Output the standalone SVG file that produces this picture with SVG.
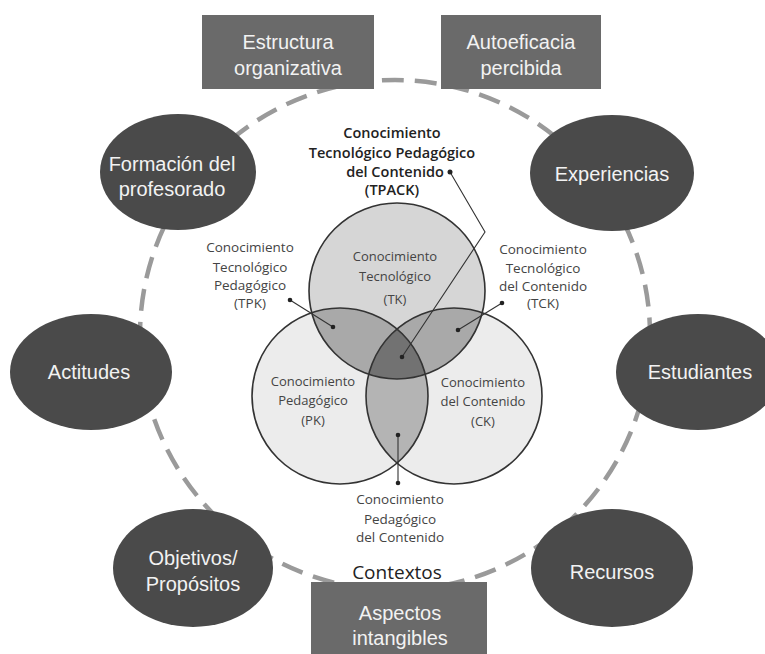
<svg xmlns="http://www.w3.org/2000/svg" width="765" height="654" viewBox="0 0 765 654">
<defs>
<style>
.node{fill:#4a4a4a}
.box{fill:#6a6a6a}
.nt{font-family:"Liberation Sans",Arial,sans-serif;font-size:20px;fill:#f2f2f2;text-anchor:middle}
.vt{font-family:"Open Sans","DejaVu Sans",sans-serif;font-size:13px;fill:#444;text-anchor:middle}
.vo{font-size:13.5px}
.tp{font-family:"Open Sans","DejaVu Sans",sans-serif;font-size:14.5px;font-weight:600;fill:#222;text-anchor:middle}
.ring{fill:none;stroke:#333;stroke-width:1.6}
.lead{fill:none;stroke:#333;stroke-width:1.1}
.dot{fill:#222}
</style>
<clipPath id="cTK"><circle cx="397" cy="291" r="88"/></clipPath>
<clipPath id="cPK"><circle cx="340" cy="396" r="88"/></clipPath>
<clipPath id="cCK"><circle cx="454" cy="396" r="88"/></clipPath>
</defs>
<rect width="765" height="654" fill="#fff"/>

<g id="connectors">
<circle cx="395" cy="335" r="255" fill="none" stroke="#9a9a9a" stroke-width="4.5" stroke-dasharray="22 11"/>
</g>

<g id="box-estructura"><rect class="box" x="202" y="15" width="172" height="74"/>
<text class="nt" x="288" y="49">Estructura</text><text class="nt" x="288" y="75">organizativa</text></g>
<g id="box-autoeficacia"><rect class="box" x="441" y="15" width="160" height="74"/>
<text class="nt" x="521" y="49">Autoeficacia</text><text class="nt" x="521" y="75">percibida</text></g>
<g id="box-aspectos"><rect class="box" x="311" y="582" width="176" height="80"/>
<text class="nt" x="400" y="620">Aspectos</text><text class="nt" x="400" y="645">intangibles</text></g>

<g id="node-formacion"><ellipse class="node" cx="178" cy="172" rx="78" ry="58"/>
<text class="nt" x="172" y="171">Formación del</text><text class="nt" x="172" y="196">profesorado</text></g>
<g id="node-experiencias"><ellipse class="node" cx="612" cy="173" rx="82" ry="58"/>
<text class="nt" x="612" y="181">Experiencias</text></g>
<g id="node-actitudes"><ellipse class="node" cx="91" cy="372" rx="81" ry="58"/>
<text class="nt" x="89" y="379">Actitudes</text></g>
<g id="node-estudiantes"><ellipse class="node" cx="698" cy="372" rx="82" ry="58"/>
<text class="nt" x="700" y="379">Estudiantes</text></g>
<g id="node-objetivos"><ellipse class="node" cx="193" cy="568" rx="80" ry="59"/>
<text class="nt" x="193" y="565">Objetivos/</text><text class="nt" x="193" y="591">Propósitos</text></g>
<g id="node-recursos"><ellipse class="node" cx="612" cy="568" rx="81" ry="59"/>
<text class="nt" x="612" y="579">Recursos</text></g>

<g id="venn">
<circle cx="340" cy="396" r="88" fill="#ececec"/>
<circle cx="454" cy="396" r="88" fill="#ececec"/>
<circle cx="397" cy="291" r="88" fill="#d6d6d6"/>
<circle cx="340" cy="396" r="88" fill="#a9a9a9" clip-path="url(#cTK)"/>
<circle cx="454" cy="396" r="88" fill="#a9a9a9" clip-path="url(#cTK)"/>
<circle cx="454" cy="396" r="88" fill="#b4b4b4" clip-path="url(#cPK)"/>
<g clip-path="url(#cTK)"><circle cx="454" cy="396" r="88" fill="#727272" clip-path="url(#cPK)"/></g>
<circle class="ring" cx="340" cy="396" r="88"/>
<circle class="ring" cx="454" cy="396" r="88"/>
<circle class="ring" cx="397" cy="291" r="88"/>
</g>

<g id="leaders">
<polyline class="lead" points="290,300 333,327"/>
<circle class="dot" cx="290" cy="300" r="2.3"/><circle class="dot" cx="333" cy="327" r="2.3"/>
<polyline class="lead" points="502,303 458,330"/>
<circle class="dot" cx="502" cy="303" r="2.3"/><circle class="dot" cx="458" cy="330" r="2.3"/>
<polyline class="lead" points="450,172 485,232 402,357"/>
<circle class="dot" cx="450" cy="172" r="2.5"/><circle class="dot" cx="402" cy="357" r="2.3"/>
<polyline class="lead" points="398,435 398,483"/>
<circle class="dot" cx="398" cy="435" r="2.3"/><circle class="dot" cx="398" cy="483" r="2.3"/>
</g>

<g id="labels">
<text class="tp" x="392" y="138">Conocimiento</text>
<text class="tp" x="392" y="158">Tecnológico Pedagógico</text>
<text class="tp" x="395" y="177">del Contenido</text>
<text class="tp" x="392" y="195">(TPACK)</text>

<text class="vt" x="395" y="261">Conocimiento</text>
<text class="vt" x="395" y="281">Tecnológico</text>
<text class="vt" x="395" y="304">(TK)</text>

<text class="vt vo" x="250" y="252">Conocimiento</text>
<text class="vt vo" x="250" y="272">Tecnológico</text>
<text class="vt vo" x="250" y="290">Pedagógico</text>
<text class="vt vo" x="250" y="308">(TPK)</text>

<text class="vt vo" x="543" y="254">Conocimiento</text>
<text class="vt vo" x="543" y="273">Tecnológico</text>
<text class="vt vo" x="543" y="291">del Contenido</text>
<text class="vt vo" x="543" y="308">(TCK)</text>

<text class="vt" x="313" y="386">Conocimiento</text>
<text class="vt" x="313" y="405">Pedagógico</text>
<text class="vt" x="313" y="425">(PK)</text>

<text class="vt" x="483" y="387">Conocimiento</text>
<text class="vt" x="483" y="406">del Contenido</text>
<text class="vt" x="483" y="426">(CK)</text>

<text class="vt vo" x="400" y="504">Conocimiento</text>
<text class="vt vo" x="400" y="524">Pedagógico</text>
<text class="vt vo" x="400" y="542">del Contenido</text>

<text x="397" y="579" style="font-family:'Open Sans','DejaVu Sans',sans-serif;font-size:19px;fill:#222;text-anchor:middle">Contextos</text>
</g>
</svg>
